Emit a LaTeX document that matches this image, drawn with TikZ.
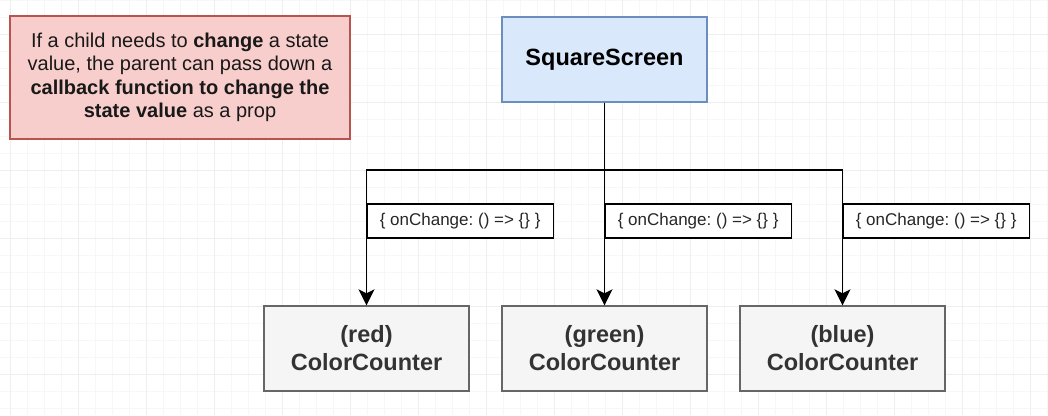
\documentclass[tikz,border=0pt]{standalone}
\usepackage{fontspec}
\setmainfont{Liberation Sans}
\usetikzlibrary{arrows.meta}
\frenchspacing
\definecolor{pinkfill}{HTML}{F8CECC}
\definecolor{pinkline}{HTML}{B85450}
\definecolor{bluefill}{HTML}{DAE8FC}
\definecolor{blueline}{HTML}{6C8EBF}
\definecolor{grayfill}{HTML}{F5F5F5}
\definecolor{grayline}{HTML}{666666}
\definecolor{graytext}{HTML}{333333}
\definecolor{gridminor}{HTML}{F7F7F7}
\definecolor{gridmajor}{HTML}{EEEEEE}
\begin{document}
\begin{tikzpicture}[x=1pt,y=-1pt,
  notebox/.style={draw=pinkline,fill=pinkfill,line width=1.3pt,minimum width=340pt,minimum height=123pt,inner sep=0pt,align=center,
    font=\fontsize{20}{23.5}\selectfont,text=black!90},
  parentbox/.style={draw=blueline,fill=bluefill,line width=1.3pt,minimum width=205pt,minimum height=85pt,inner sep=0pt,
    font=\fontsize{23.5}{28}\selectfont\bfseries},
  childbox/.style={draw=grayline,fill=grayfill,line width=1.3pt,minimum width=205pt,minimum height=85pt,inner sep=0pt,align=center,
    font=\fontsize{23.5}{28}\selectfont\bfseries,text=graytext},
  propbox/.style={draw=black,fill=white,line width=1.3pt,minimum width=186pt,minimum height=34pt,inner sep=0pt,anchor=west,
    font=\fontsize{17}{20}\selectfont,text=black!85},
  wire/.style={draw=black,line width=1.5pt},
  arr/.style={wire,-{Stealth[length=16pt,width=16pt,inset=4pt]}}
]
\useasboundingbox (0,0) rectangle (1048,415);
\fill[white] (0,0) rectangle (1048,415);
% grid
\foreach \x in {10,27,...,1048} \draw[gridminor,line width=0.8pt] (\x,0) -- (\x,415);
\foreach \y in {0,17,...,415} \draw[gridminor,line width=0.8pt] (0,\y) -- (1048,\y);
\foreach \x in {10,78,...,1048} \draw[gridmajor,line width=0.9pt] (\x,0) -- (\x,415);
\foreach \y in {34,102,...,415} \draw[gridmajor,line width=0.9pt] (0,\y) -- (1048,\y);

\node[notebox] (note) at (180,77.5) {If a child needs to \textbf{change} a state\\value, the parent can pass down a\\\textbf{callback function to change the}\\\textbf{state value} as a prop};
\node[parentbox] (sq) at (604.5,59.5) {SquareScreen};

\node[childbox] (red) at (366.5,348.5) {(red)\\ColorCounter};
\node[childbox] (green) at (604.5,348.5) {(green)\\ColorCounter};
\node[childbox] (blue) at (842.5,348.5) {(blue)\\ColorCounter};

\coordinate (bus) at (604.5,170);

\draw[arr] (sq.south) -- (green.north);
\draw[arr] (sq.south) -- (bus) -| (red.north);
\draw[arr] (sq.south) -- (bus) -| (blue.north);

\node[propbox] (pr) at (366.5,221) {\{ onChange: () => \{\} \}};
\node[propbox] (pg) at (604.5,221) {\{ onChange: () => \{\} \}};
\node[propbox] (pb) at (842.5,221) {\{ onChange: () => \{\} \}};
\end{tikzpicture}
\end{document}
